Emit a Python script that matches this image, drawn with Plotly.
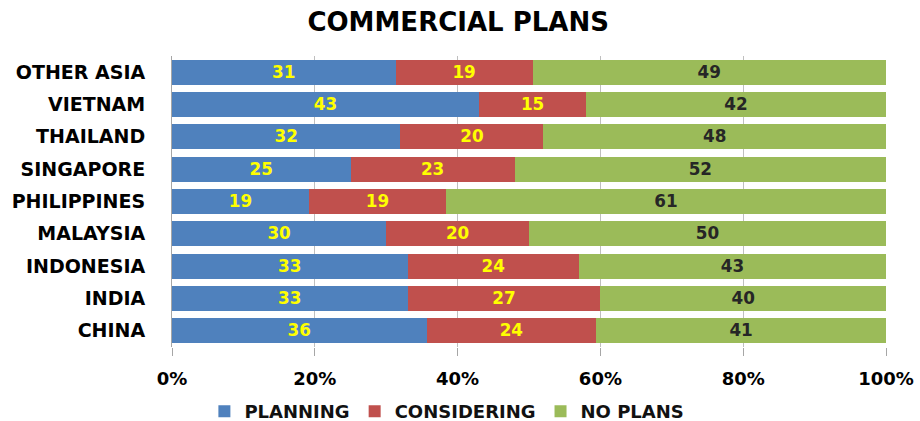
import plotly.graph_objects as go

# Countries from bottom to top of the chart
countries = ["CHINA", "INDIA", "INDONESIA", "MALAYSIA", "PHILIPPINES",
             "SINGAPORE", "THAILAND", "VIETNAM", "OTHER ASIA"]
planning = [36, 33, 33, 30, 19, 25, 32, 43, 31]
considering = [24, 27, 24, 20, 19, 23, 20, 15, 19]
no_plans = [41, 40, 43, 50, 61, 52, 48, 42, 49]

x_ticks = [0, 20, 40, 60, 80, 100]
x_tick_labels = ["0%", "20%", "40%", "60%", "80%", "100%"]

FONT = "'DejaVu Sans', Verdana, sans-serif"

series = [
    ("PLANNING", planning, "#4F81BD", "#FFFF00"),
    ("CONSIDERING", considering, "#C0504D", "#FFFF00"),
    ("NO PLANS", no_plans, "#9BBB59", "#262626"),
]

fig = go.Figure()
for name, vals, color, txtcol in series:
    fig.add_trace(go.Bar(
        y=countries, x=vals, name=name, orientation="h",
        marker=dict(color=color, line=dict(width=0)),
        text=[str(v) for v in vals], textposition="inside",
        insidetextanchor="middle", textangle=0,
        textfont=dict(family=FONT, size=21, color=txtcol, weight="bold"),
        hoverinfo="skip",
    ))

fig.update_layout(
    barmode="stack", barnorm="percent", bargap=0.22,
    width=920, height=421,
    margin=dict(l=172, r=34, t=56, b=74, autoexpand=False),
    paper_bgcolor="white", plot_bgcolor="white",
    title=dict(text="<b>COMMERCIAL PLANS</b>", x=0.498, xanchor="center",
               yref="container", y=0.948, yanchor="middle",
               font=dict(family=FONT, size=26, color="#000000")),
    legend=dict(orientation="h", x=0.385, xanchor="center", y=-0.222,
                yanchor="middle", traceorder="normal",
                font=dict(family=FONT, size=18, color="#111111",
                          weight="bold"),
                itemwidth=30),
    uniformtext=dict(minsize=10, mode="show"),
)
fig.update_xaxes(
    range=[0, 100], tickvals=x_ticks, ticktext=x_tick_labels,
    showgrid=True, gridcolor="#BFBFBF", gridwidth=1,
    ticks="outside", ticklen=8, tickcolor="#A6A6A6",
    showline=False, zeroline=False, ticklabelstandoff=7,
    tickfont=dict(family=FONT, size=18, color="#000000", weight="bold"),
)
fig.update_yaxes(
    showgrid=False, showline=True, linecolor="#A6A6A6",
    ticks="", ticklabelstandoff=22,
    tickfont=dict(family=FONT, size=19, color="#000000", weight="bold"),
)

fig.write_html("out.html")
